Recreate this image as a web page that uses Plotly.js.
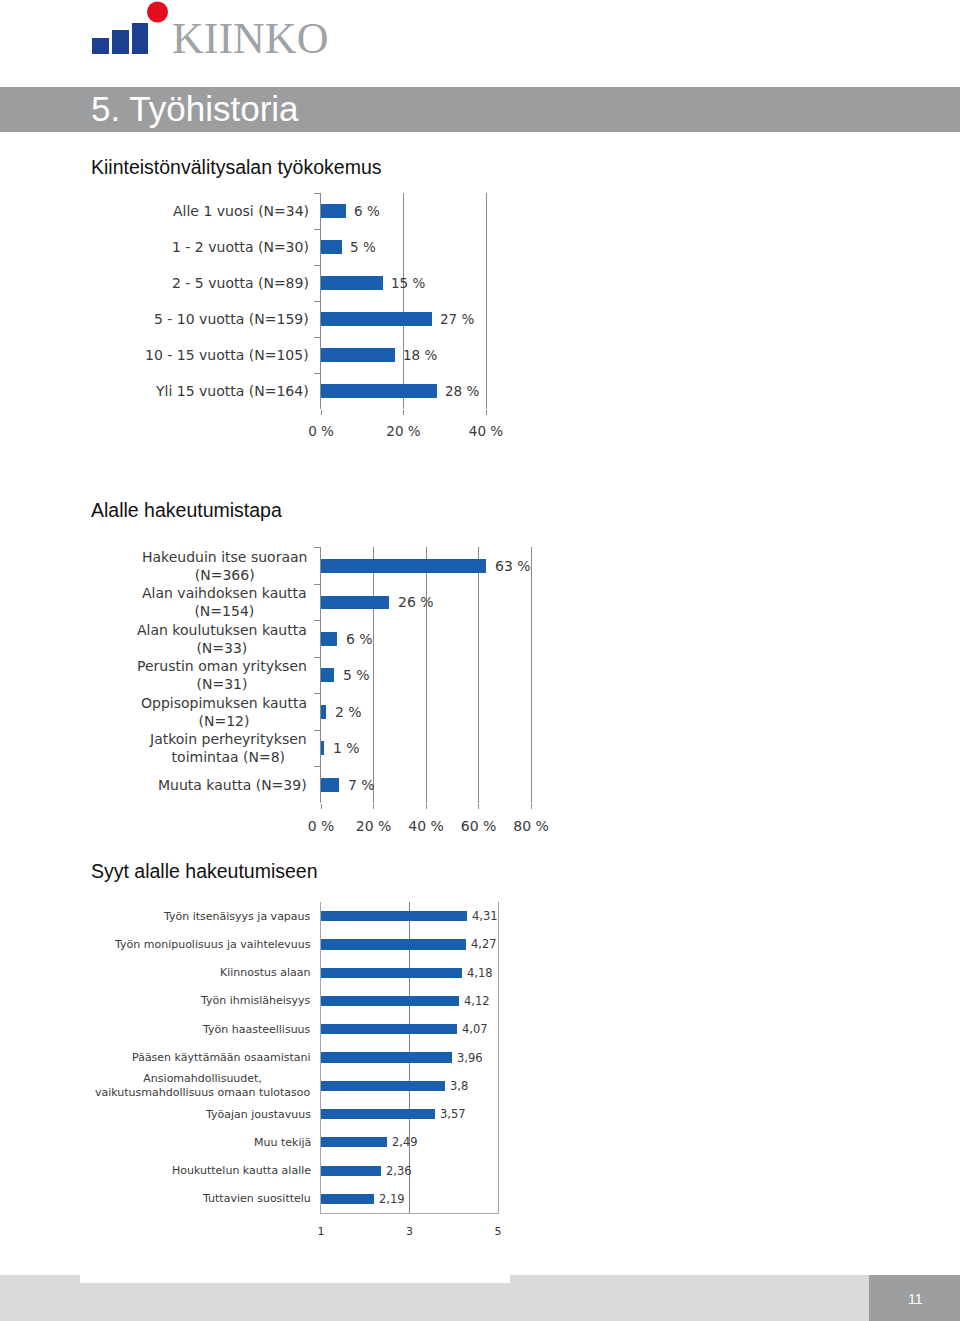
<!DOCTYPE html>
<html>
<head>
<meta charset="utf-8">
<script src="https://cdn.plot.ly/plotly-3.0.1.min.js"></script>
<style>
  html, body { margin: 0; padding: 0; background: #ffffff; }
  #chart { width: 960px; height: 1321px; }
</style>
</head>
<body>
<div id="chart"></div>
<script>
// ---------- DATA ----------
const pageTitle = '5. Työhistoria';
const brandName = 'KIINKO';
const pageNumber = '11';

const title1 = 'Kiinteistönvälitysalan työkokemus';
const categories1 = ['Alle 1 vuosi (N=34)', '1 - 2 vuotta (N=30)', '2 - 5 vuotta (N=89)',
  '5 - 10 vuotta (N=159)', '10 - 15 vuotta (N=105)', 'Yli 15 vuotta (N=164)'];
const values1 = [6, 5, 15, 27, 18, 28];
const ticks1 = [0, 20, 40];

const title2 = 'Alalle hakeutumistapa';
const categories2 = ['Hakeuduin itse suoraan<br>(N=366)', 'Alan vaihdoksen kautta<br>(N=154)',
  'Alan koulutuksen kautta<br>(N=33)', 'Perustin oman yrityksen<br>(N=31)',
  'Oppisopimuksen kautta<br>(N=12)', 'Jatkoin perheyrityksen<br>toimintaa (N=8)',
  'Muuta kautta (N=39)'];
const values2 = [63, 26, 6, 5, 2, 1, 7];
const ticks2 = [0, 20, 40, 60, 80];

const title3 = 'Syyt alalle hakeutumiseen';
const categories3 = ['Työn itsenäisyys ja vapaus', 'Työn monipuolisuus ja vaihtelevuus',
  'Kiinnostus alaan', 'Työn ihmisläheisyys', 'Työn haasteellisuus',
  'Pääsen käyttämään osaamistani',
  'Ansiomahdollisuudet,<br>vaikutusmahdollisuus omaan tulotasoo',
  'Työajan joustavuus', 'Muu tekijä', 'Houkuttelun kautta alalle', 'Tuttavien suosittelu'];
const values3 = [4.31, 4.27, 4.18, 4.12, 4.07, 3.96, 3.8, 3.57, 2.49, 2.36, 2.19];
const ticks3 = [1, 3, 5];

// ---------- LAYOUT HELPERS ----------
const W = 960, H = 1321;
const px = x => x / W;
const py = y => 1 - y / H;

const BAR = '#1a5eae';
const GRID = '#8a8a8a';
const TXT = '#3a3a3a';
const LBL = 'DejaVu Sans, Verdana, sans-serif';
const HEAD = 'Liberation Sans, Arial, Helvetica, sans-serif';

function fmtPct(v) { return v + ' %'; }
function fmtDec(v) { return String(v).replace('.', ','); }

const traces = [
  { type: 'bar', orientation: 'h', x: values1, y: categories1, xaxis: 'x', yaxis: 'y',
    marker: { color: BAR }, width: 0.38, hoverinfo: 'skip' },
  { type: 'bar', orientation: 'h', x: values2, y: categories2, xaxis: 'x2', yaxis: 'y2',
    marker: { color: BAR }, width: 0.38, hoverinfo: 'skip' },
  { type: 'bar', orientation: 'h', x: values3, y: categories3, xaxis: 'x3', yaxis: 'y3',
    marker: { color: BAR }, width: 0.36, hoverinfo: 'skip' }
];

const annotations = [];
const shapes = [];

// Header / logo / footer decoration
shapes.push({ type: 'rect', xref: 'paper', yref: 'paper', x0: 0, x1: 1, y0: py(132), y1: py(87),
  fillcolor: '#9c9d9f', line: { width: 0 }, layer: 'below' });
shapes.push({ type: 'rect', xref: 'paper', yref: 'paper', x0: px(92), x1: px(109), y0: py(54), y1: py(38),
  fillcolor: '#1c3f8f', line: { width: 0 } });
shapes.push({ type: 'rect', xref: 'paper', yref: 'paper', x0: px(112), x1: px(129), y0: py(54), y1: py(30),
  fillcolor: '#1c3f8f', line: { width: 0 } });
shapes.push({ type: 'rect', xref: 'paper', yref: 'paper', x0: px(132), x1: px(148), y0: py(54), y1: py(23),
  fillcolor: '#1c3f8f', line: { width: 0 } });
shapes.push({ type: 'circle', xref: 'paper', yref: 'paper', x0: px(147), x1: px(168), y0: py(22.5), y1: py(1.5),
  fillcolor: '#e30d20', line: { width: 0 } });
shapes.push({ type: 'rect', xref: 'paper', yref: 'paper', x0: 0, x1: 1, y0: 0, y1: py(1275),
  fillcolor: '#d9dadc', line: { width: 0 }, layer: 'below' });
shapes.push({ type: 'rect', xref: 'paper', yref: 'paper', x0: px(80), x1: px(510), y0: py(1283), y1: py(1274),
  fillcolor: '#ffffff', line: { width: 0 }, layer: 'below' });
shapes.push({ type: 'rect', xref: 'paper', yref: 'paper', x0: px(869), x1: 1, y0: 0, y1: py(1275),
  fillcolor: '#9d9ea0', line: { width: 0 }, layer: 'below' });

annotations.push({ xref: 'paper', yref: 'paper', x: px(170), y: py(39), xanchor: 'left', yanchor: 'middle',
  text: brandName, showarrow: false, font: { family: 'Liberation Serif, Times New Roman, serif', size: 44, color: '#9ea3a8' } });
annotations.push({ xref: 'paper', yref: 'paper', x: px(89), y: py(108), xanchor: 'left', yanchor: 'middle',
  text: pageTitle, showarrow: false, font: { family: HEAD, size: 35, color: '#ffffff' } });
annotations.push({ xref: 'paper', yref: 'paper', x: px(915), y: py(1299), xanchor: 'center', yanchor: 'middle',
  text: pageNumber, showarrow: false, font: { family: HEAD, size: 14, color: '#ffffff' } });

[[title1, 167], [title2, 510], [title3, 871]].forEach(([t, y]) => {
  annotations.push({ xref: 'paper', yref: 'paper', x: px(89), y: py(y), xanchor: 'left', yanchor: 'middle',
    text: t, showarrow: false, font: { family: HEAD, size: 19.5, color: '#111111' } });
});

// Category labels and value labels
categories1.forEach((c, i) => {
  annotations.push({ xref: 'paper', yref: 'y', x: px(311), y: c, xanchor: 'right', yanchor: 'middle',
    text: c, showarrow: false, align: 'right', font: { family: LBL, size: 14, color: TXT } });
  annotations.push({ xref: 'x', yref: 'y', x: values1[i], y: c, xanchor: 'left', yanchor: 'middle', xshift: 6,
    text: fmtPct(values1[i]), showarrow: false, font: { family: LBL, size: 13.5, color: TXT } });
});
categories2.forEach((c, i) => {
  annotations.push({ xref: 'paper', yref: 'y2', x: px(309), y: c, xanchor: 'right', yanchor: 'middle',
    text: c, showarrow: false, align: 'center', font: { family: LBL, size: 14, color: TXT } });
  annotations.push({ xref: 'x2', yref: 'y2', x: values2[i], y: c, xanchor: 'left', yanchor: 'middle', xshift: 7,
    text: fmtPct(values2[i]), showarrow: false, font: { family: LBL, size: 14, color: TXT } });
});
categories3.forEach((c, i) => {
  annotations.push({ xref: 'paper', yref: 'y3', x: px(313), y: c, xanchor: 'right', yanchor: 'middle',
    text: c, showarrow: false, align: 'center', font: { family: LBL, size: 11, color: TXT } });
  annotations.push({ xref: 'x3', yref: 'y3', x: values3[i], y: c, xanchor: 'left', yanchor: 'middle', xshift: 3,
    text: fmtDec(values3[i]), showarrow: false, font: { family: LBL, size: 11.5, color: TXT } });
});

const catAxis = (domain, cats) => ({
  domain: domain, type: 'category', categoryorder: 'array', categoryarray: cats,
  autorange: 'reversed', showticklabels: false, showgrid: false, zeroline: false,
  showline: true, mirror: true, linecolor: GRID, linewidth: 1, ticks: 'outside', ticklen: 6, tickcolor: GRID,
  tickson: 'boundaries', fixedrange: true
});

const layout = {
  width: W, height: H,
  margin: { l: 0, r: 0, t: 0, b: 0, pad: 0 },
  paper_bgcolor: '#ffffff', plot_bgcolor: 'rgba(0,0,0,0)',
  showlegend: false, bargap: 0,
  xaxis: { domain: [px(321), px(486)], anchor: 'y', range: [0, 40], tickmode: 'array',
    tickvals: ticks1, ticktext: ticks1.map(fmtPct),
    showgrid: true, gridcolor: GRID, gridwidth: 1, zeroline: false, showline: false,
    ticks: 'outside', ticklen: 5, tickcolor: GRID, ticklabelstandoff: 5,
    tickfont: { family: LBL, size: 13.5, color: TXT }, fixedrange: true },
  yaxis: Object.assign(catAxis([py(409), py(193)], categories1), { anchor: 'x' }),
  xaxis2: { domain: [px(321), px(531)], anchor: 'y2', range: [0, 80], tickmode: 'array',
    tickvals: ticks2, ticktext: ticks2.map(fmtPct),
    showgrid: true, gridcolor: GRID, gridwidth: 1, zeroline: false, showline: false,
    ticks: 'outside', ticklen: 5, tickcolor: GRID, ticklabelstandoff: 5,
    tickfont: { family: LBL, size: 14, color: TXT }, fixedrange: true },
  yaxis2: Object.assign(catAxis([py(803), py(547)], categories2), { anchor: 'x2' }),
  xaxis3: { domain: [px(321), px(498)], anchor: 'y3', range: [1, 5], tickmode: 'array',
    tickvals: ticks3, ticktext: ticks3.map(String),
    showgrid: true, gridcolor: '#7f7f7f', gridwidth: 1, zeroline: false,
    showline: true, linecolor: '#a6a6a6', linewidth: 1,
    ticks: '', ticklabelstandoff: 8,
    tickfont: { family: LBL, size: 11, color: '#333333' }, fixedrange: true },
  yaxis3: Object.assign(catAxis([py(1213), py(902)], categories3),
    { anchor: 'x3', ticks: '', linecolor: '#a6a6a6' }),
  shapes: shapes,
  annotations: annotations
};

Plotly.newPlot('chart', traces, layout, { staticPlot: true, displayModeBar: false });
</script>
</body>
</html>
